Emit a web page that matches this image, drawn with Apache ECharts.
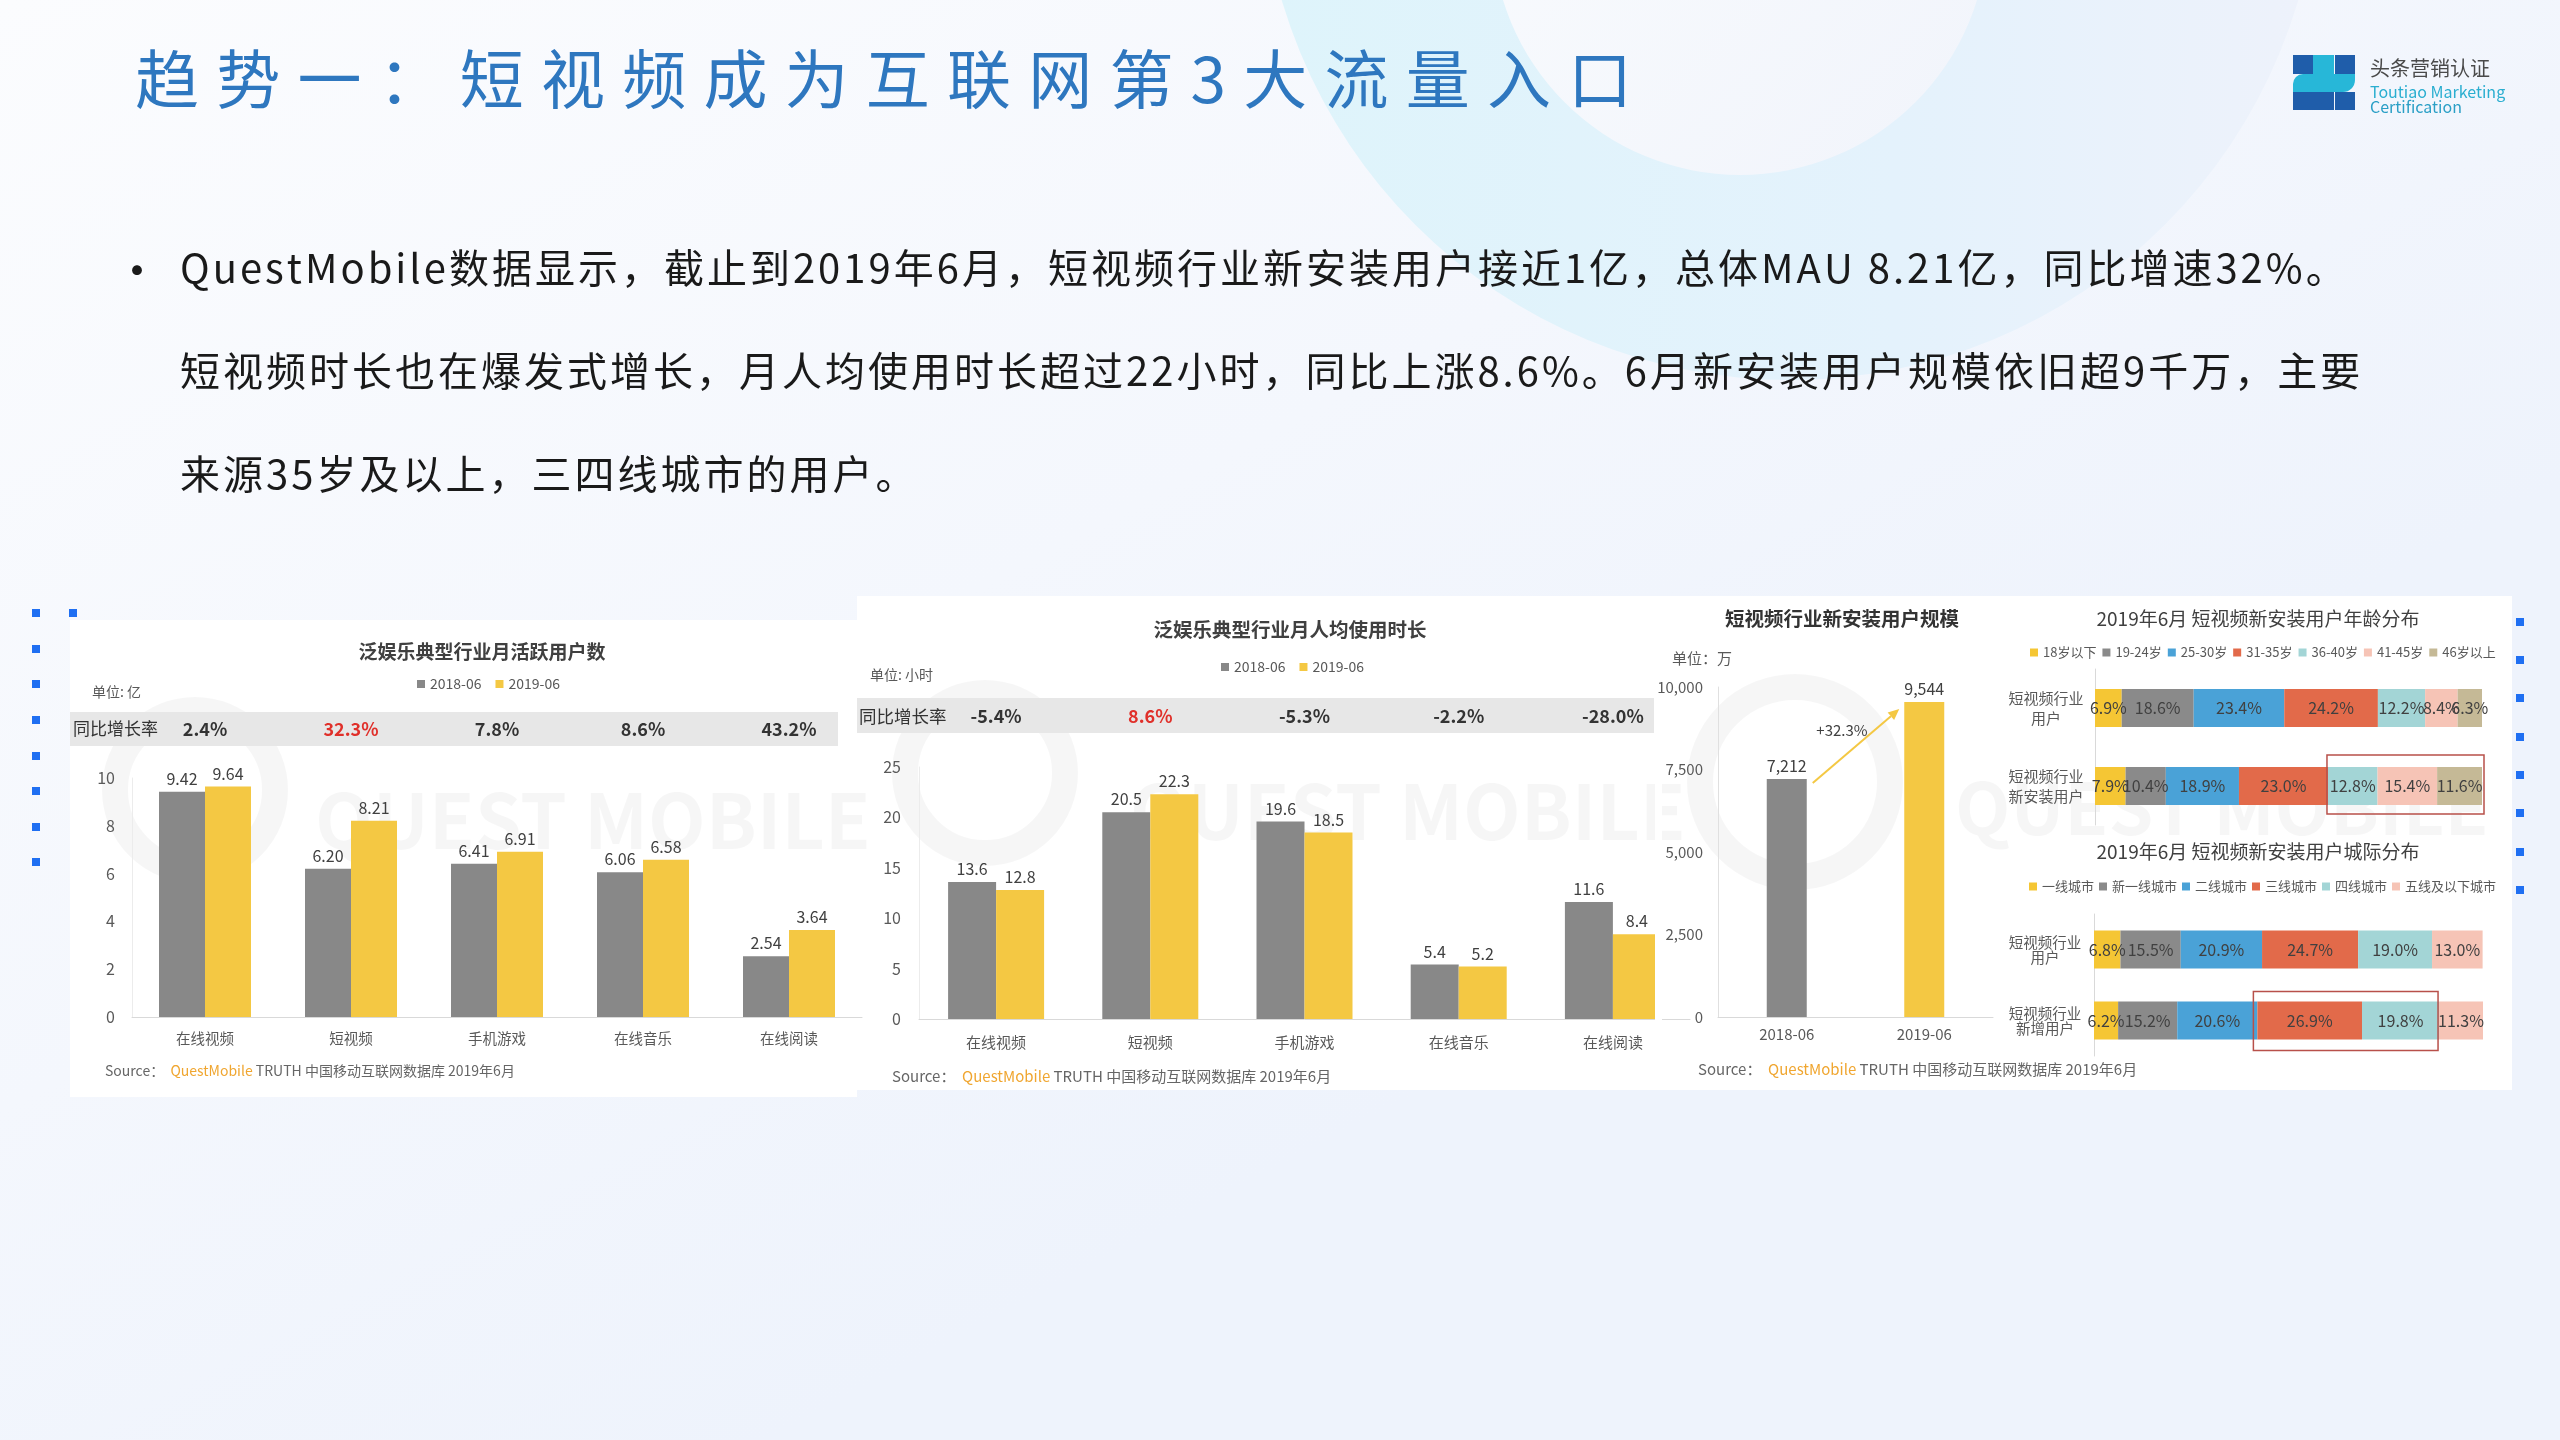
<!DOCTYPE html>
<html><head><meta charset="utf-8">
<script src="https://cdn.jsdelivr.net/npm/echarts@6/dist/echarts.min.js"></script>
<style>html,body{margin:0;padding:0;background:#fff}#c{width:2560px;height:1440px}</style>
</head><body><div id="c"></div>
<script>
// ---------------- DATA ----------------
const titleText = '趋势一：短视频成为互联网第3大流量入口';
const paraLines = [
  'QuestMobile数据显示，截止到2019年6月，短视频行业新安装用户接近1亿，总体MAU 8.21亿，同比增速32%。',
  '短视频时长也在爆发式增长，月人均使用时长超过22小时，同比上涨8.6%。6月新安装用户规模依旧超9千万，主要',
  '来源35岁及以上，三四线城市的用户。'
];
const seriesNames = ['2018-06', '2019-06'];
const mauCats = ['在线视频', '短视频', '手机游戏', '在线音乐', '在线阅读'];
const mau2018 = [9.42, 6.20, 6.41, 6.06, 2.54];
const mau2019 = [9.64, 8.21, 6.91, 6.58, 3.64];
const mauGrowth = ['2.4%', '32.3%', '7.8%', '8.6%', '43.2%'];
const timeCats = ['在线视频', '短视频', '手机游戏', '在线音乐', '在线阅读'];
const time2018 = [13.6, 20.5, 19.6, 5.4, 11.6];
const time2019 = [12.8, 22.3, 18.5, 5.2, 8.4];
const timeGrowth = ['-5.4%', '8.6%', '-5.3%', '-2.2%', '-28.0%'];
const installCats = ['2018-06', '2019-06'];
const installValues = [7212, 9544];
const ageRows = ['短视频行业\n用户', '短视频行业\n新安装用户'];
const ageGroups = ['18岁以下', '19-24岁', '25-30岁', '31-35岁', '36-40岁', '41-45岁', '46岁以上'];
const ageIndustry = [6.9, 18.6, 23.4, 24.2, 12.2, 8.4, 6.3];
const ageNew = [7.9, 10.4, 18.9, 23.0, 12.8, 15.4, 11.6];
const cityRows = ['短视频行业\n用户', '短视频行业\n新增用户'];
const cityGroups = ['一线城市', '新一线城市', '二线城市', '三线城市', '四线城市', '五线及以下城市'];
const cityIndustry = [6.8, 15.5, 20.9, 24.7, 19.0, 13.0];
const cityNew = [6.2, 15.2, 20.6, 26.9, 19.8, 11.3];
const ageHighlightFrom = 4;   // 36-40岁 onward boxed
const cityHighlight = [3, 4]; // 三线, 四线 boxed

// ---------------- STYLE ----------------
const FONT = '"Noto Sans CJK SC", "Noto Sans", sans-serif';
const GRAY = '#888888', YELLOW = '#F4C843';
const AGE_COLORS = ['#F5C634', '#8A8A8A', '#4AA2D7', '#E26A4A', '#A3D5D6', '#F6C4B6', '#C5B996'];
const TXT = '#595959', DARK = '#404040';

const chart = echarts.init(document.getElementById('c'), null, {renderer: 'canvas'});
let gid = 0;
function T(x, y, text, size, color, o) {
  o = o || {};
  return {type: 'text', id: 'g' + (gid++), x: x, y: y, z: o.z != null ? o.z : 5, silent: true,
    style: {text: text, fill: color, font: (o.weight || 'normal') + ' ' + size + 'px ' + FONT,
      textAlign: o.align || 'left', textVerticalAlign: o.valign || 'middle',
      align: o.align || 'left', verticalAlign: o.valign || 'middle', rich: o.rich}};
}
function R(x, y, w, h, fill, z, extra) {
  return Object.assign({type: 'rect', id: 'g' + (gid++), z: z, silent: true,
    shape: {x: x, y: y, width: w, height: h}, style: {fill: fill}}, extra || {});
}
function C(cx, cy, r, fill, z, stroke, lw) {
  return {type: 'circle', id: 'g' + (gid++), z: z, silent: true, shape: {cx: cx, cy: cy, r: r},
    style: {fill: fill, stroke: stroke || null, lineWidth: lw || 0}};
}
const mc = document.createElement('canvas').getContext('2d');
function charRun(str, x0, y, size, spacing, color, weight) {
  const font = (weight || 'normal') + ' ' + size + 'px ' + FONT;
  mc.font = font;
  const out = [];
  let x = x0;
  for (const ch of str) {
    if (ch !== ' ') out.push(T(x, y, ch, size, color, {weight: weight}));
    x += mc.measureText(ch).width + spacing;
  }
  return out;
}
function sourceLine(x, y, size) {
  const rs = {fontSize: size, fontFamily: FONT};
  return T(x, y, '{g|Source：}  {o|QuestMobile}{g| TRUTH 中国移动互联网数据库 2019年6月}', size, TXT, {
    rich: {g: Object.assign({fill: '#666', color: '#666'}, rs), o: Object.assign({fill: '#F0A630', color: '#F0A630'}, rs)}});
}

// ---------------- BACKGROUND / DECOR ----------------
const els = [];
els.push(R(0, 0, 2560, 1440, {type: 'linear', x: 0, y: 0, x2: 0.3, y2: 1,
  colorStops: [{offset: 0, color: '#fbfcfe'}, {offset: 0.6, color: '#f4f7fd'}, {offset: 1, color: '#eef3fc'}]}, -30));
els.push(C(1790, -150, 530, {type: 'linear', x: 0, y: 0, x2: 1, y2: 0,
  colorStops: [{offset: 0, color: '#def4fb'}, {offset: 0.6, color: '#e4f2fc'}, {offset: 1, color: '#eef2fb'}]}, -28));
els.push(C(1740, -73, 248, {type: 'linear', x: 0, y: 0, x2: 1, y2: 1,
  colorStops: [{offset: 0, color: '#fafcfe'}, {offset: 1, color: '#f1f4fb'}]}, -27));
// decorative dots
[613, 649, 684, 720, 756, 791, 827, 862].forEach(y => els.push(R(32, y - 4, 8, 8, '#1f6ff2', -5)));
els.push(R(69, 609, 8, 8, '#1f6ff2', -5));
[622, 660, 698, 737, 775, 813, 852, 890].forEach(y => els.push(R(2516, y - 4, 8, 8, '#1f6ff2', -5)));
// panels
els.push(R(70, 620, 787, 477, '#ffffff', -20));
els.push(R(857, 596, 1655, 494, '#ffffff', -20));
// growth bands
els.push(R(70, 712, 768, 34, '#e7e7e7', -10));
els.push(R(857, 698, 797, 35, '#e7e7e7', -10));
// watermarks
const WM = 'rgba(0,0,0,0.035)';
[[195, 790, 80], [985, 773, 80], [1795, 782, 95]].forEach(function (w) {
  els.push(C(w[0], w[1], w[2], null, -12, WM, 26));
});
els.push(T(315, 820, 'QUEST MOBILE', 75, WM, {weight: 'bold', z: -12}));
els.push(T(1130, 811, 'QUEST MOBILE', 75, WM, {weight: 'bold', z: -12}));
els.push(T(1955, 808, 'QUEST MOBILE', 72, WM, {weight: 'bold', z: -12}));
// cover for clipped last bar of chart 2
els.push(R(1655, 740, 7, 290, '#ffffff', 50));

// ---------------- TITLE / TEXT ----------------
Array.prototype.push.apply(els, charRun(titleText, 135, 79, 64, 17.2, '#2E77BF'));
els.push(T(114, 270, '•', 46, '#1a1a1a'));
const lineY = [268, 371, 474];
paraLines.forEach(function (l, i) { Array.prototype.push.apply(els, charRun(l, 180, lineY[i], 40, 3, '#1a1a1a')); });

// logo
const DB = '#1F5DAA', CY = '#27B7D8';
els.push(R(2293, 55, 20, 19, DB, 5));
els.push(R(2313, 55, 21, 19, CY, 5));
els.push(R(2335, 55, 20, 19, DB, 5));
els.push(R(2293, 74, 20, 18, CY, 5, {shape: {x: 2293, y: 74, width: 20, height: 18, r: [10, 0, 0, 0]}}));
els.push(R(2313, 74, 21, 18, CY, 5));
els.push(R(2334, 74, 21, 18, CY, 5, {shape: {x: 2334, y: 74, width: 21, height: 18, r: [0, 0, 12, 0]}}));
els.push(R(2293, 92, 20, 18, DB, 5));
els.push(R(2313, 92, 21, 18, DB, 5));
els.push(R(2335, 92, 20, 18, DB, 5));
els.push(T(2370, 68, '头条营销认证', 20, '#4a4a4a'));
els.push(T(2370, 92, 'Toutiao Marketing', 16, '#2AAED0'));
els.push(T(2370, 107, 'Certification', 16, '#2A9FC6'));

// chart texts
els.push(T(482, 652, '泛娱乐典型行业月活跃用户数', 19, DARK, {align: 'center', weight: 'bold'}));
els.push(T(92, 692, '单位: 亿', 14, TXT));
els.push(T(73, 729, '同比增长率', 17, '#333'));
els.push(sourceLine(105, 1071, 14));

els.push(T(1290, 630, '泛娱乐典型行业月人均使用时长', 19.5, DARK, {align: 'center', weight: 'bold'}));
els.push(T(870, 675, '单位: 小时', 14, TXT));
els.push(T(859, 716, '同比增长率', 17.5, '#333'));
els.push(sourceLine(892, 1076, 15));

els.push(T(1842, 619, '短视频行业新安装用户规模', 19.5, '#333', {align: 'center', weight: 'bold'}));
els.push(T(1672, 658, '单位：万', 15, TXT));
els.push(sourceLine(1698, 1069, 15));

els.push(T(2258, 619, '2019年6月 短视频新安装用户年龄分布', 19, DARK, {align: 'center'}));
els.push(T(2258, 852, '2019年6月 短视频新安装用户城际分布', 19, DARK, {align: 'center'}));

// ---------------- AXES ----------------
function catX(gi, data, fs, margin) {
  return {type: 'category', gridIndex: gi, data: data, axisTick: {show: false},
    axisLine: {show: true, lineStyle: {color: '#d9d9d9', width: 1}}, splitLine: {show: false},
    axisLabel: {fontSize: fs, color: TXT, margin: margin, fontFamily: FONT}};
}
function growthX(gi, data, offset, red) {
  const base = {fontSize: 18, fontWeight: 'bold', fontFamily: FONT};
  return {type: 'category', gridIndex: gi, position: 'top', offset: offset, data: data,
    axisTick: {show: false}, axisLine: {show: false}, splitLine: {show: false},
    axisLabel: {margin: 0, verticalAlign: 'middle', interval: 0,
      formatter: function (v, i) { return (i === red ? '{r|' : '{n|') + v + '}'; },
      rich: {n: Object.assign({color: '#333'}, base), r: Object.assign({color: '#E0302A'}, base)}}};
}
function valY(gi, max, interval, margin, fmt, lineColor, fs) {
  return {type: 'value', gridIndex: gi, min: 0, max: max, interval: interval,
    axisLine: {show: true, lineStyle: {color: lineColor || '#ececec'}}, axisTick: {show: false},
    splitLine: {show: false}, axisLabel: {fontSize: fs || 16, color: TXT, margin: margin, formatter: fmt, fontFamily: FONT}};
}
function pctX(gi) {
  return {type: 'value', gridIndex: gi, min: 0, max: 100, show: false, splitLine: {show: false}};
}
function rowY(gi, data, lh, fs) {
  return {type: 'category', gridIndex: gi, data: data, inverse: true, axisTick: {show: false},
    axisLine: {show: true, lineStyle: {color: '#d9d9d9'}}, splitLine: {show: false},
    axisLabel: {align: 'center', margin: 49, fontSize: fs, lineHeight: lh, color: TXT, fontFamily: FONT}};
}
function pairBar(name, xi, yi, data, color, bw, digits) {
  return {type: 'bar', name: name, xAxisIndex: xi, yAxisIndex: yi, data: data, barWidth: bw, barGap: '0%',
    itemStyle: {color: color},
    label: {show: true, position: 'top', distance: 5, fontSize: 16, color: DARK, fontFamily: FONT,
      formatter: function (p) { return p.value.toFixed(digits); }}};
}
function stackBars(groups, rowsA, rowsB, stack, xi, yi) {
  return groups.map(function (g, i) {
    return {type: 'bar', name: g, stack: stack, xAxisIndex: xi, yAxisIndex: yi, barWidth: 38,
      data: [rowsA[i], rowsB[i]], itemStyle: {color: AGE_COLORS[i]},
      label: {show: true, position: 'inside', color: DARK, fontSize: 16, fontFamily: FONT, textBorderWidth: 0,
        formatter: function (p) { return p.value.toFixed(1) + '%'; }}};
  });
}
const legendBase = {icon: 'rect', itemWidth: 8, itemHeight: 8, padding: 0, selectedMode: false,
  textStyle: {color: TXT, fontFamily: FONT}};

const option = {
  animation: false,
  backgroundColor: 'transparent',
  textStyle: {fontFamily: FONT},
  grid: [
    {left: 132, top: 778, width: 730, height: 239, outerBoundsMode: 'none'},
    {left: 919, top: 767, width: 771, height: 252, outerBoundsMode: 'none'},
    {left: 1718, top: 687, width: 275, height: 330, outerBoundsMode: 'none'},
    {left: 2095, top: 669, width: 387, height: 156, outerBoundsMode: 'none'},
    {left: 2094, top: 914, width: 389, height: 142, outerBoundsMode: 'none'}
  ],
  legend: [
    Object.assign({}, legendBase, {left: 417, top: 677, itemGap: 14, data: seriesNames,
      textStyle: {color: TXT, fontFamily: FONT, fontSize: 14}}),
    Object.assign({}, legendBase, {left: 1221, top: 660, itemGap: 14, data: seriesNames,
      textStyle: {color: TXT, fontFamily: FONT, fontSize: 14}}),
    Object.assign({}, legendBase, {left: 2030, top: 646, itemGap: 6, data: ageGroups,
      textStyle: {color: TXT, fontFamily: FONT, fontSize: 13}}),
    Object.assign({}, legendBase, {left: 2029, top: 880, itemGap: 5, data: cityGroups,
      textStyle: {color: TXT, fontFamily: FONT, fontSize: 13}})
  ],
  xAxis: [
    catX(0, mauCats, 14.5, 14),
    growthX(0, mauGrowth, 49, mauCats.indexOf('短视频')),
    catX(1, timeCats, 15, 16),
    growthX(1, timeGrowth, 51, timeCats.indexOf('短视频')),
    catX(2, installCats, 15, 10),
    pctX(3),
    pctX(4)
  ],
  yAxis: [
    valY(0, 10, 2, 17),
    valY(1, 25, 5, 18),
    valY(2, 10000, 2500, 15, function (v) { return v.toLocaleString('en-US'); }, '#e0e0e0', 15),
    rowY(3, ageRows, 20, 15),
    rowY(4, cityRows, 15, 14.5)
  ],
  series: [
    pairBar(seriesNames[0], 0, 0, mau2018, GRAY, 46, 2),
    pairBar(seriesNames[1], 0, 0, mau2019, YELLOW, 46, 2),
    pairBar(seriesNames[0], 2, 1, time2018, GRAY, 48, 1),
    pairBar(seriesNames[1], 2, 1, time2019, YELLOW, 48, 1),
    {type: 'bar', name: '新安装用户', xAxisIndex: 4, yAxisIndex: 2, barWidth: 40,
      data: installValues.map(function (v, i) { return {value: v, itemStyle: {color: i ? YELLOW : GRAY}}; }),
      label: {show: true, position: 'top', distance: 5, fontSize: 16, color: DARK, fontFamily: FONT,
        formatter: function (p) { return p.value.toLocaleString('en-US'); }}}
  ].concat(stackBars(ageGroups, ageIndustry, ageNew, 'age', 5, 3))
   .concat(stackBars(cityGroups, cityIndustry, cityNew, 'city', 6, 4)),
  graphic: {elements: els}
};
chart.setOption(option);

// ---------------- DATA-DRIVEN OVERLAYS ----------------
const extra = [];
function sum(a, n) { let s = 0; for (let i = 0; i < n; i++) s += a[i]; return s; }
(function () {
  const a = chart.convertToPixel({gridIndex: 3}, [sum(ageNew, ageHighlightFrom), 1]);
  const b = chart.convertToPixel({gridIndex: 3}, [sum(ageNew, ageNew.length), 1]);
  extra.push({type: 'rect', id: 'boxAge', z: 20, silent: true,
    shape: {x: a[0] - 1, y: a[1] - 31, width: b[0] - a[0] + 3, height: 59},
    style: {fill: null, stroke: '#B8504A', lineWidth: 1.5}});
})();
(function () {
  const a = chart.convertToPixel({gridIndex: 4}, [sum(cityNew, cityHighlight[0]), 1]);
  const b = chart.convertToPixel({gridIndex: 4}, [sum(cityNew, cityHighlight[1] + 1), 1]);
  extra.push({type: 'rect', id: 'boxCity', z: 20, silent: true,
    shape: {x: a[0] - 4, y: a[1] - 29, width: b[0] - a[0] + 3, height: 59},
    style: {fill: null, stroke: '#B8504A', lineWidth: 1.5}});
})();
(function () {
  const p0 = chart.convertToPixel({gridIndex: 2}, [0, installValues[0]]);
  const p1 = chart.convertToPixel({gridIndex: 2}, [1, installValues[1]]);
  const s = [p0[0] + 26, p0[1] + 4], e = [p1[0] - 25, p1[1] + 7];
  const ang = Math.atan2(e[1] - s[1], e[0] - s[0]);
  const L = 11, W = 5;
  const bx = e[0] - L * Math.cos(ang), by = e[1] - L * Math.sin(ang);
  extra.push({type: 'line', id: 'arrLine', z: 20, silent: true,
    shape: {x1: s[0], y1: s[1], x2: bx, y2: by}, style: {stroke: '#F4C843', lineWidth: 2}});
  extra.push({type: 'polygon', id: 'arrHead', z: 20, silent: true,
    shape: {points: [[e[0], e[1]], [bx + W * Math.sin(ang), by - W * Math.cos(ang)], [bx - W * Math.sin(ang), by + W * Math.cos(ang)]]},
    style: {fill: '#F4C843'}});
  const g = ((installValues[1] / installValues[0] - 1) * 100).toFixed(1);
  const mx = (s[0] + e[0]) / 2, my = (s[1] + e[1]) / 2;
  extra.push(Object.assign(T(mx - 14, my - 16, '+' + g + '%', 15, DARK, {align: 'center', z: 20}), {id: 'arrLbl'}));
})();
chart.setOption({graphic: {elements: extra}});
</script>
</body></html>
